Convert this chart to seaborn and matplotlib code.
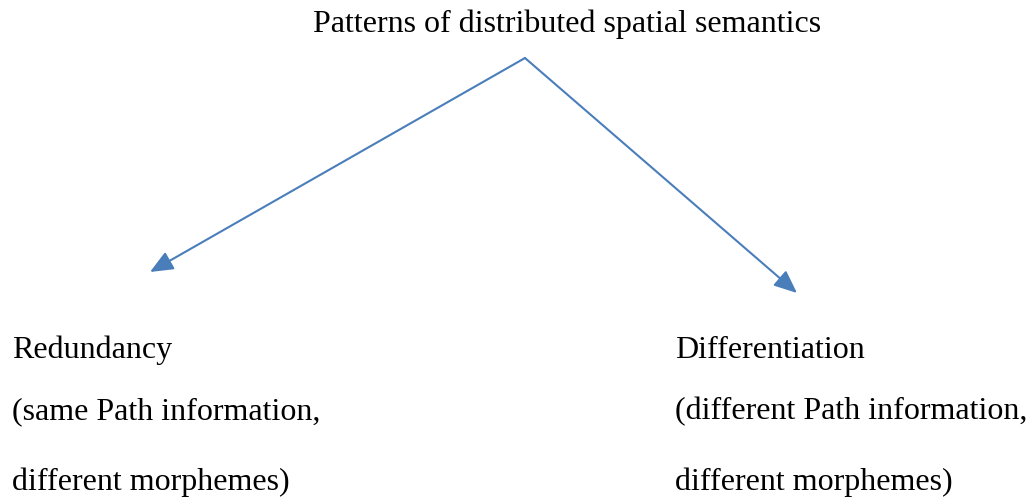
"""
plot.py

Small tree diagram: patterns of distributed spatial semantics.
"""

import matplotlib
matplotlib.use("Agg")
import matplotlib.pyplot as plt
import seaborn as sns

#data (positions in picture pixels, y goes down)
root_label = "Patterns of distributed spatial semantics"
root_xy = (525, 58)
branch_tips = [(150, 272), (797, 293)]
branch_labels = [
    ["Redundancy", "(same Path information,", "different morphemes)"],
    ["Differentiation", "(different Path information,", "different morphemes)"],
]
label_x = [12, 675]
line_y = [350, 412, 482]

#style
sns.set_style("white")
plt.rcParams["font.family"] = ["Liberation Serif", "DejaVu Serif"]
LINE_COLOR = "#4a7ebb"
FONT_SIZE = 23

fig = plt.figure(figsize=(10.31, 4.99), dpi=100)
ax = fig.add_axes([0, 0, 1, 1])
ax.set_xlim(0, 1031)
ax.set_ylim(499, 0)
ax.axis("off")

#title at the top
ax.text(567, 24, root_label, ha="center", va="center", fontsize=FONT_SIZE, color="black")

#the two arrows
for tip in branch_tips:
    ax.annotate(
        "", xy=tip, xytext=root_xy,
        arrowprops=dict(arrowstyle="-|>,head_length=1.4,head_width=0.6",
                        color=LINE_COLOR, lw=1.5, shrinkA=0, shrinkB=0),
    )

#branch texts
for x, lines in zip(label_x, branch_labels):
    for y, txt in zip(line_y, lines):
        ax.text(x, y, txt, ha="left", va="center", fontsize=FONT_SIZE, color="black")

fig.savefig("out.png", dpi=100, facecolor="white")
plt.close(fig)
